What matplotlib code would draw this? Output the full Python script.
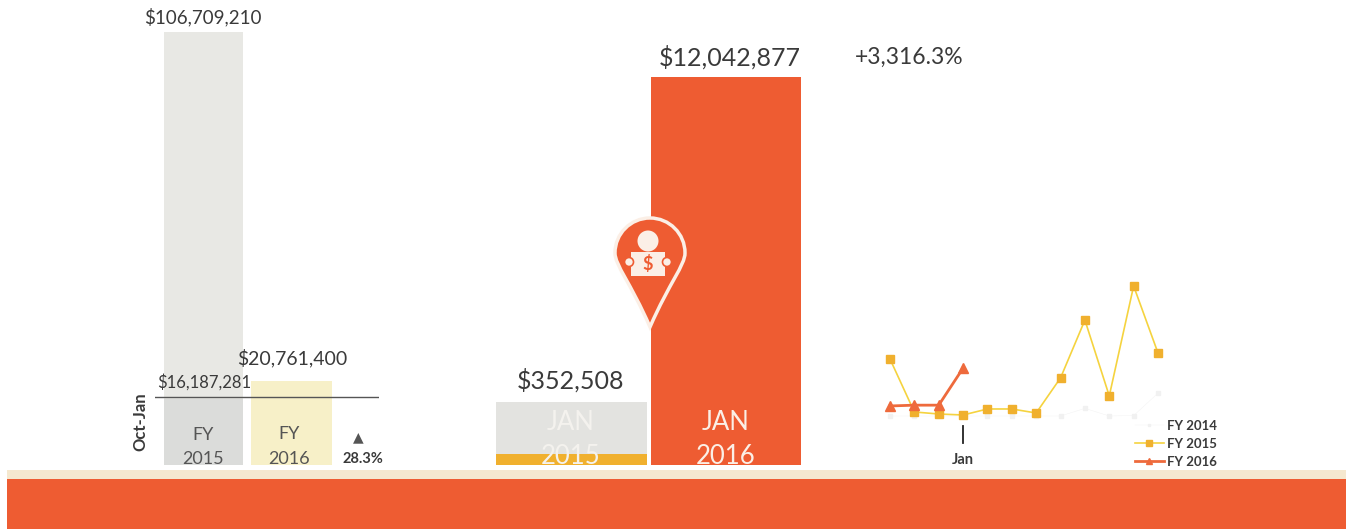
import matplotlib
matplotlib.use("Agg")
import matplotlib.pyplot as plt
import matplotlib.patches as patches
from matplotlib.path import Path

plt.rcParams["font.family"] = ["Lato", "DejaVu Sans"]

W, H = 1349, 529
ORANGE = "#EE5C32"
GOLD = "#F0B02E"
DARK = "#3A3A3A"
CREAM = "#FBEFE6"

# Oct-Jan totals
ytd_fy2015 = 16187281
ytd_fy2016 = 20761400
full_fy2015 = 106709210

# January comparison
jan_2015 = 352508
jan_2016 = 12042877
jan_2015_backdrop = 1950000

# monthly series, millions of dollars, Oct to Sep
months = list(range(12))
fy2014 = [0.1, 0.1, 0.1, 0.1, 0.1, 0.1, 0.1, 0.1, 2.0, 0.1, 0.2, 5.8]
fy2015 = [14.3, 1.1, 0.6, 0.35, 1.85, 1.85, 0.85, 9.6, 24.0, 5.1, 32.5, 15.8]
fy2016 = [2.6, 2.8, 2.8, 12.04]


def px_axes(fig, left, top, right, bottom):
    ax = fig.add_axes([left / W, 1 - bottom / H, (right - left) / W, (bottom - top) / H])
    ax.patch.set_alpha(0)
    ax.axis("off")
    return ax


def draw_pin(ax, cx, cy, r, tip_y):
    # teardrop marker, white outline over the bars
    k = 0.5523 * r
    verts = [(cx, tip_y), (cx - r * 0.55, cy + r * 0.85), (cx - r, cy + r * 0.35), (cx - r, cy),
             (cx - r, cy - k), (cx - k, cy - r), (cx, cy - r),
             (cx + k, cy - r), (cx + r, cy - k), (cx + r, cy),
             (cx + r, cy + r * 0.35), (cx + r * 0.55, cy + r * 0.85), (cx, tip_y), (cx, tip_y)]
    codes = [Path.MOVETO, Path.CURVE4, Path.CURVE4, Path.CURVE4,
             Path.CURVE4, Path.CURVE4, Path.CURVE4,
             Path.CURVE4, Path.CURVE4, Path.CURVE4,
             Path.CURVE4, Path.CURVE4, Path.CURVE4, Path.CLOSEPOLY]
    ax.add_patch(patches.PathPatch(Path(verts, codes), facecolor=ORANGE, edgecolor=CREAM, lw=2.5))
    ax.add_patch(patches.Circle((cx - 2, cy - 12), 10.5, color=CREAM, lw=0))
    ax.add_patch(patches.Rectangle((cx - 19, cy - 1), 34, 24, color=CREAM, lw=0))
    ax.add_patch(patches.Circle((cx - 21, cy + 9), 4.5, facecolor=CREAM, edgecolor=ORANGE, lw=1.2))
    ax.add_patch(patches.Circle((cx + 17, cy + 9), 4.5, facecolor=CREAM, edgecolor=ORANGE, lw=1.2))
    ax.text(cx - 2, cy + 11, "$", color=ORANGE, fontsize=13, fontweight="bold", ha="center", va="center")


fig = plt.figure(figsize=(W / 100, H / 100), dpi=100, facecolor="white")

# bottom band
deco = px_axes(fig, 0, 0, W, H)
deco.set_xlim(0, W)
deco.set_ylim(H, 0)
deco.add_patch(patches.Rectangle((7, 470), 1339, 9, color="#F5E8CF", lw=0))
deco.add_patch(patches.Rectangle((7, 479), 1339, 50, color=ORANGE, lw=0))

# Oct-Jan bars
ax1 = px_axes(fig, 155, 32, 379, 465)
ax1.set_xlim(-0.551, 1.994)
ax1.set_ylim(0, full_fy2015)
ax1.bar([0], [full_fy2015], width=0.9, color="#E8E8E4")
ax1.bar([0], [ytd_fy2015], width=0.9, color="#DBDCDA")
ax1.bar([1], [ytd_fy2016], width=0.92, color="#F7F0C8")
ax1.axhline(ytd_fy2015 * 1.035, color="#555555", lw=1)

# January bars
ax2 = px_axes(fig, 496, 77, 801, 465)
ax2.set_xlim(-0.49, 1.484)
ax2.set_ylim(0, jan_2016)
ax2.bar([0], [jan_2015_backdrop], width=0.977, color="#E3E3E0")
ax2.bar([0], [jan_2015], width=0.977, color=GOLD)
ax2.bar([1], [jan_2016], width=0.977, color=ORANGE)

# monthly lines
ax3 = px_axes(fig, 890, 286, 1158, 416.4)
ax3.set_xlim(0, 11)
ax3.set_ylim(0, 32.5)
l14, = ax3.plot(months, fy2014, color="#F1F1F1", marker="s", ms=2.5, lw=0.3, clip_on=False, label="FY 2014")
l15, = ax3.plot(months, fy2015, color="#F5D33F", marker="s", ms=5.5, mfc=GOLD, mec=GOLD, lw=1.2,
                clip_on=False, label="FY 2015")
l16, = ax3.plot(months[:len(fy2016)], fy2016, color="#EE6A3C", marker="^", ms=7, lw=2, clip_on=False,
                label="FY 2016")
fig.legend(handles=[l14, l15, l16], loc="center left", bbox_to_anchor=(1123 / W, 1 - 444 / H), frameon=False,
           handlelength=2.2, handletextpad=0.25, labelspacing=0.45, labelcolor=DARK, markerscale=0.7,
           prop={"family": "Lato", "weight": "bold", "size": 9.5})

# text layer
txt = px_axes(fig, 0, 0, W, H)
txt.set_xlim(0, W)
txt.set_ylim(H, 0)
txt.plot([963, 963], [426, 443], color="#222222", lw=1.3)
draw_pin(txt, 650, 253, 35, 327)

labels = [
    (203, 17, "$106,709,210", 13.5, DARK),
    (292, 358, "$20,761,400", 14, DARK),
    (204, 382, "$16,187,281", 12, DARK),
    (571, 380, "$352,508", 18, DARK),
    (730, 57, "$12,042,877", 18, DARK),
    (909, 57, "+3,316.3%", 16.5, DARK),
    (203, 435, "FY", 13, "#555555"),
    (203, 459, "2015", 13, "#555555"),
    (289, 434, "FY", 13, "#555555"),
    (289, 459, "2016", 13, "#555555"),
    (571, 422, "JAN", 18.5, "#F4F2EE"),
    (571, 457, "2015", 18.5, "#F4F2EE"),
    (726, 422, "JAN", 18.5, CREAM),
    (726, 457, "2016", 18.5, CREAM),
]
for x, y, s, size, color in labels:
    txt.text(x, y, s, fontsize=size, color=color, ha="center", va="center")
txt.text(963, 460, "Jan", fontsize=10.5, fontweight="bold", color=DARK, ha="center", va="center")
txt.text(363, 459, "28.3%", fontsize=10.5, fontweight="bold", color=DARK, ha="center", va="center")
txt.text(358, 437, "\u25B2", fontsize=10, color="#555555", ha="center", va="center")
txt.text(140, 422, "Oct-Jan", fontsize=12, fontweight="bold", color=DARK, rotation=90, ha="center", va="center")

fig.savefig("out.png", dpi=100)
